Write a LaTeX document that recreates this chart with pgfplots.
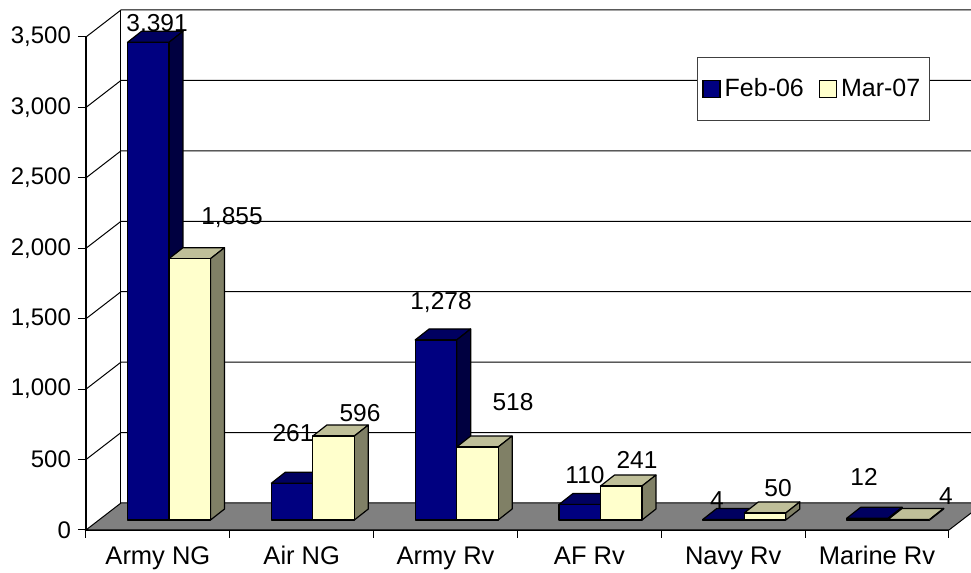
\documentclass[border=0pt]{standalone}
\usepackage{fontspec}
\setmainfont{Liberation Sans}
\usepackage{pgfplots}
\pgfplotsset{compat=1.18}
\usepackage{pgfplotstable}
\definecolor{navyF}{RGB}{0,0,128}
\definecolor{navyT}{RGB}{0,0,96}
\definecolor{navyS}{RGB}{0,0,64}
\definecolor{creamF}{RGB}{255,255,204}
\definecolor{creamT}{RGB}{191,191,153}
\definecolor{creamS}{RGB}{128,128,102}
\definecolor{floorgray}{RGB}{128,128,128}

\pgfplotstableread{
c feb mar
0 3391 1855
1 261 596
2 1278 518
3 110 241
4 4 50
5 12 4
}\datatable

\pgfdeclareplotmark{none3d}{}
% cuboid drawn from the data point (value, front plane); the bars stand
% on the floor 5pt above the front edge, and are drawn down by the value
\newcommand{\drawcuboid}[3]{%
  \pgfmathsetlengthmacro{\bh}{0.070429pt*\barval}%
  \filldraw[fill=#2, draw=black, line width=0.6pt, line join=round]
    (0pt,5pt) -- (20.75pt,5pt) -- (27.75pt,10.5pt) -- (7pt,10.5pt) -- cycle;
  \filldraw[fill=#3, draw=black, line width=0.6pt, line join=round]
    (20.75pt,5pt) -- (27.75pt,10.5pt) -- (27.75pt,10.5pt-\bh) -- (20.75pt,5pt-\bh) -- cycle;
  \filldraw[fill=#1, draw=black, line width=0.6pt, line join=round]
    (0pt,5pt) rectangle (20.75pt,5pt-\bh);
}

\begin{document}
\begin{tikzpicture}
\begin{axis}[
  scale only axis,
  width=431.5pt, height=246.5pt,
  xmin=-0.5, xmax=5.5, ymin=0, ymax=3500,
  clip=false,
  axis x line*=bottom, axis y line*=left,
  x axis line style={-}, y axis line style={-},
  axis line style={black, line width=0.6pt},
  ytick={0,500,...,3500},
  scaled y ticks=false,
  yticklabel style={/pgf/number format/1000 sep={,}},
  xtick={0,1,2,3,4,5},
  xticklabels={Army NG,Air NG,Army Rv,AF Rv,Navy Rv,Marine Rv},
  minor xtick={-0.5,0.5,...,5.5},
  major x tick style={draw=none},
  xticklabel style={anchor=base, yshift=-13.5pt, font=\fontsize{12.75}{14}\selectfont},
  tick align=outside,
  major tick length=4pt,
  minor tick length=4pt,
  tick style={black, line width=0.5pt},
  tick label style={font=\fontsize{12}{14}\selectfont},
  /pgf/number format/assume math mode=true,
  legend columns=2,
  legend style={at={(0.708,0.9594)}, anchor=north west,
    draw=black!75, line width=0.5pt, fill=white,
    font=\fontsize{12.5}{14}\selectfont,
    inner xsep=2.5pt, inner ysep=8.5pt,
    /tikz/every even column/.append style={column sep=5.5pt}},
]
% left wall and back wall gridlines
\pgfplotsinvokeforeach{500,1000,...,3500}{
  \draw[black, line width=0.5pt] (axis cs:-0.5,#1) -- (axis cs:-0.2567,{#1+191.7}) -- (axis cs:5.6535,{#1+191.7});
}
\draw[black, line width=0.5pt] (axis cs:-0.2567,191.7) -- (axis cs:-0.2567,3691.7);
% floor
\fill[floorgray] (axis cs:-0.5,0) -- (axis cs:-0.2567,191.7) -- (axis cs:5.6535,191.7) -- (axis cs:5.6535,120.7) -- (axis cs:5.5,0) -- cycle;
\draw[black, line width=0.5pt] (axis cs:5.6535,191.7) -- (axis cs:-0.2567,191.7) -- (axis cs:-0.5,0) -- (axis cs:5.5,0) -- (axis cs:5.6535,120.7);

\addplot[scatter, only marks, mark=none3d,
  visualization depends on={rawy \as \barval},
  scatter/@pre marker code/.code={\drawcuboid{navyF}{navyT}{navyS}},
  scatter/@post marker code/.code={},
  legend image code/.code={\draw[fill=navyF, line width=0.6pt] (0pt,-4.25pt) rectangle (8.5pt,4.25pt);}
] table[x expr=\thisrow{c}-0.2115, y=feb] {\datatable};
\addlegendentry{Feb-06}

\addplot[scatter, only marks, mark=none3d,
  visualization depends on={rawy \as \barval},
  scatter/@pre marker code/.code={\drawcuboid{creamF}{creamT}{creamS}},
  scatter/@post marker code/.code={},
  legend image code/.code={\draw[fill=creamF, line width=0.6pt] (0pt,-4.25pt) rectangle (8.5pt,4.25pt);}
] table[x expr=\thisrow{c}+0.077, y=mar] {\datatable};
\addlegendentry{Mar-07}

% value labels
\begin{scope}[every node/.style={font=\fontsize{12.25}{14}\selectfont, inner sep=0pt}]
\node at (axis cs:-0.006,3590) {3,391};
\node at (axis cs:0.5151,2215) {1,855};
\node at (axis cs:0.9392,689) {261};
\node at (axis cs:1.4050,831) {596};
\node at (axis cs:1.9682,1612) {1,278};
\node at (axis cs:2.4688,909) {518};
\node at (axis cs:2.9694,391) {110};
\node at (axis cs:3.3309,497) {241};
\node at (axis cs:3.8872,213) {4};
\node at (axis cs:4.3112,298) {50};
\node at (axis cs:4.9092,376) {12};
\node at (axis cs:5.4793,241) {4};
\end{scope}
\coordinate (bbll) at (axis cs:-1.0979,-305.3);
\coordinate (bbur) at (axis cs:5.6530,3762.7);
\end{axis}
\pgfresetboundingbox
\useasboundingbox (bbll) rectangle (bbur);
\end{tikzpicture}
\end{document}
